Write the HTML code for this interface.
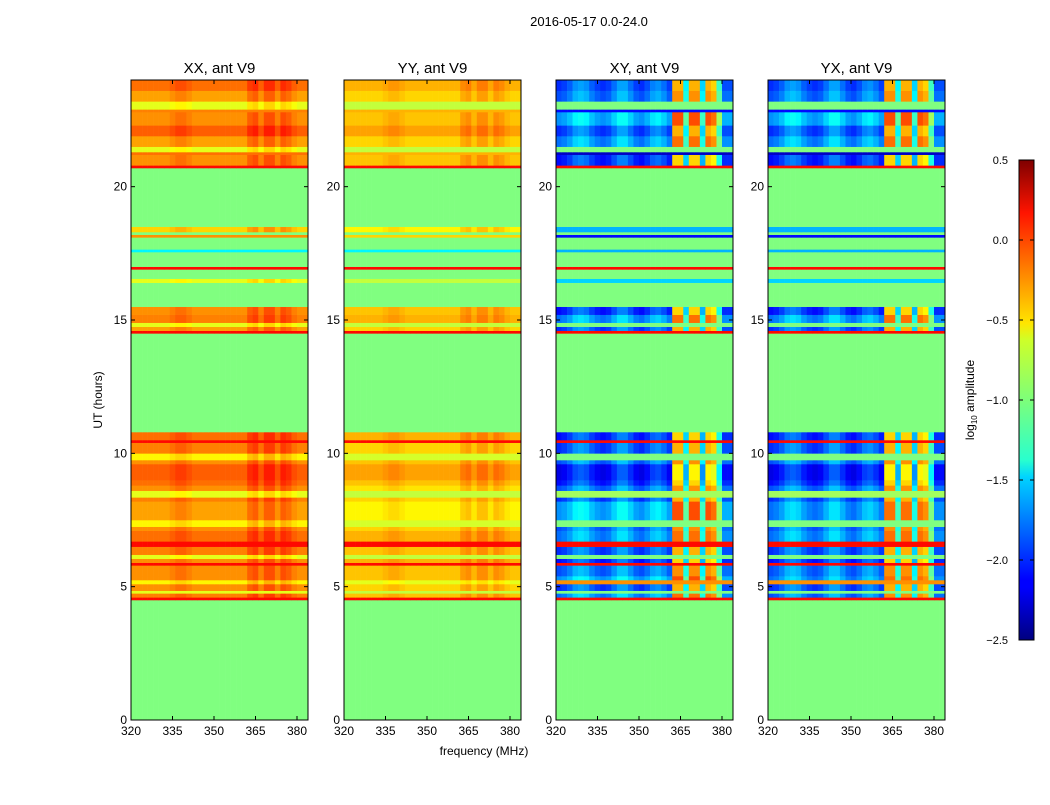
<!DOCTYPE html>
<html><head><meta charset="utf-8"><style>
body{margin:0;background:#fff;font-family:"Liberation Sans",sans-serif;}
svg text{font-family:"Liberation Sans",sans-serif;}
</style></head><body>
<svg id="fig" width="1050" height="800" xmlns="http://www.w3.org/2000/svg">
<rect width="1050" height="800" fill="#fff"/>
<text x="589" y="26" font-size="13" text-anchor="middle">2016-05-17 0.0-24.0</text>
<text x="484" y="755" font-size="12" text-anchor="middle">frequency (MHz)</text>
<text x="102" y="400" font-size="12" text-anchor="middle" transform="rotate(-90 102 400)">UT (hours)</text>
<defs><linearGradient id="jet" x1="0" y1="1" x2="0" y2="0">
<stop offset="0" stop-color="#00007f"/><stop offset="0.11" stop-color="#0000ff"/><stop offset="0.125" stop-color="#0000ff"/>
<stop offset="0.34" stop-color="#00d4ff"/><stop offset="0.375" stop-color="#29ffce"/><stop offset="0.5" stop-color="#7dff7a"/>
<stop offset="0.625" stop-color="#ceff29"/><stop offset="0.66" stop-color="#ffe500"/><stop offset="0.89" stop-color="#ff1400"/><stop offset="1" stop-color="#7f0000"/>
</linearGradient></defs>
<g id="cbar">
<rect x="1019" y="160" width="15" height="480" fill="url(#jet)" stroke="#000" stroke-width="1"/>
</g>
<text x="974" y="400" font-size="12" text-anchor="middle" transform="rotate(-90 974 400)">log<tspan font-size="8" dy="3">10</tspan><tspan dy="-3"> amplitude</tspan></text>
<g id="panels"></g>
</svg>
<script>
const panelTitles=["XX, ant V9","YY, ant V9","XY, ant V9","YX, ant V9"];
const bandStart=[0,4.5,4.6,4.75,4.85,5.1,5.25,5.4,5.8,5.9,6.05,6.2,6.5,6.7,7.1,7.25,7.5,8.2,8.35,8.6,8.8,9.0,9.6,9.75,10.0,10.4,10.5,10.8,14.5,14.6,14.75,14.9,15.2,15.5,16.4,16.55,16.9,17.0,17.55,17.65,18.1,18.2,18.3,18.5,18.6,20.7,20.8,21.2,21.3,21.5,21.9,22.3,22.8,22.9,23.2,23.6];
const bandEnd=  [4.5,4.6,4.75,4.85,5.1,5.25,5.4,5.8,5.9,6.05,6.2,6.5,6.7,7.1,7.25,7.5,8.2,8.35,8.6,8.8,9.0,9.6,9.75,10.0,10.4,10.5,10.8,14.5,14.6,14.75,14.9,15.2,15.5,16.4,16.55,16.9,17.0,17.55,17.65,18.1,18.2,18.3,18.5,18.6,20.7,20.8,21.2,21.3,21.5,21.9,22.3,22.8,22.9,23.2,23.6,24];
const xxVals=[-1,0.1,-0.25,-0.7,-0.3,-0.6,-0.3,-0.3,0.1,-0.3,-0.7,-0.25,0.1,-0.2,-0.3,-0.6,-0.35,-0.25,-0.7,-0.3,-0.2,-0.15,-0.3,-0.6,-0.25,0.1,-0.2,-1,0.1,-0.35,-0.7,-0.25,-0.3,-1,-0.7,-1,0.1,-1,-1.4,-1,-0.3,-1,-0.5,-1,-1,0.1,-0.3,-0.2,-0.7,-0.35,-0.15,-0.3,-0.25,-0.7,-0.35,-0.2];
const yyVals=[-1,0.1,-0.45,-0.8,-0.5,-0.7,-0.45,-0.45,0.1,-0.4,-0.8,-0.45,0.1,-0.4,-0.5,-0.75,-0.6,-0.5,-0.8,-0.55,-0.45,-0.35,-0.45,-0.75,-0.5,0.1,-0.4,-1,0.1,-0.5,-0.8,-0.4,-0.45,-1,-0.8,-1,0.1,-1,-1.4,-1,-0.5,-1,-0.6,-1,-1,0.1,-0.45,-0.4,-0.8,-0.5,-0.35,-0.45,-0.4,-0.8,-0.5,-0.4];
const xyVals=[-1,0.1,-1.8,-1.0,-2.0,-0.3,-1.7,-1.9,0.1,-2.1,-1.0,-2.0,0.1,-1.8,-1.9,-1.0,-1.7,-2.0,-0.9,-1.9,-2.1,-2.2,-1.9,-1.0,-2.0,0.1,-2.1,-1,0.1,-2.0,-1.0,-1.8,-2.1,-1,-1.5,-1,0.1,-1,-1.6,-1,-2.1,-1,-1.6,-1,-1,0.1,-2.1,-2.3,-1.0,-1.8,-2.0,-1.7,-2.1,-1.0,-1.9,-2.0];
const yxVals=[-1,0.1,-1.9,-1.0,-2.0,-0.3,-1.8,-1.9,0.1,-2.1,-1.0,-2.0,0.1,-1.8,-1.9,-1.0,-1.8,-2.0,-0.9,-1.9,-2.1,-2.2,-1.9,-1.0,-2.0,0.1,-2.1,-1,0.1,-2.0,-1.0,-1.8,-2.1,-1,-1.5,-1,0.1,-1,-1.6,-1,-2.1,-1,-1.6,-1,-1,0.1,-2.1,-2.3,-1.0,-1.8,-2.0,-1.7,-2.1,-1.0,-1.9,-2.0];
const colFreq=[320,322,324,326,328,330,332,334,336,338,340,342,344,346,348,350,352,354,356,358,360,362,364,366,368,370,372,374,376,378,380,382];
const xxCol=[0,0,0,0,0,0,0,0.05,0.1,0.1,0.05,0,0,0,0,0,0,0,0,0,0,0.15,0.2,0.05,0.2,0.2,0.05,0.2,0.15,0.05,0,0];
const crossCol=[0,0.05,0.15,0.3,0.35,0.3,0.15,0.05,0,0.05,0.2,0.35,0.35,0.2,0.05,0,0.1,0.25,0.3,0.2,0.05,1.6,1.6,0.6,1.6,1.6,0.5,1.6,1.5,0.8,0.1,0.1];
const xTicks=[320,335,350,365,380];
const yTicks=[0,5,10,15,20];
const cbTicks=[0.5,0.0,-0.5,-1.0,-1.5,-2.0,-2.5];

function jet(v){let t=(v+2.5)/3;t=Math.max(0,Math.min(1,t));
 const r=Math.max(0,Math.min(1,1.5-Math.abs(4*t-3))),g=Math.max(0,Math.min(1,1.5-Math.abs(4*t-2))),b=Math.max(0,Math.min(1,1.5-Math.abs(4*t-1)));
 return `rgb(${Math.round(r*255)},${Math.round(g*255)},${Math.round(b*255)})`;}
const NS="http://www.w3.org/2000/svg";
const panelX=[131,344,556,768],PW=177,PT=80,PB=720;
function xs(px,f){return px+(f-320)*166/60;}
function ys(h){return PB-h*(PB-PT)/24;}
const root=document.getElementById('panels');
function mk(tag,attrs,parent){const e=document.createElementNS(NS,tag);for(const k in attrs)e.setAttribute(k,attrs[k]);parent.appendChild(e);return e;}
const series=[xxVals,yyVals,xyVals,yxVals];
panelX.forEach((px,pi)=>{
 const g=mk('g',{},root);
 
 
 const vals=series[pi];
 for(let b=0;b<bandStart.length;b++){
  const base=vals[b];
  const isData=(pi<2 ? base>-0.75 : base<-1.6) && base<0.05 && (bandEnd[b]-bandStart[b])>0.12;
  for(let c=0;c<colFreq.length;c++){
   let v=base;
   if(isData){v+= pi<2 ? xxCol[c]*(pi==0?1:0.8) : crossCol[c];}
   const x0=xs(px,colFreq[c]),x1=Math.min(px+PW,xs(px,colFreq[c]+2));
   if(x1<=x0)continue;
   const r=mk('rect',{x:x0.toFixed(2),y:ys(bandEnd[b]).toFixed(2),width:(x1-x0+0.3).toFixed(2),height:(ys(bandStart[b])-ys(bandEnd[b])+0.3).toFixed(2),fill:jet(v)},g);
   
   
  }
 }
 mk('rect',{x:px,y:PT,width:PW,height:PB-PT,fill:'none',stroke:'#000','stroke-width':1},g);
 const t=mk('text',{x:px+PW/2,y:73,'font-size':15,'text-anchor':'middle'},g);t.textContent=panelTitles[pi];
 
 
 xTicks.forEach(f=>{const x=xs(px,f);mk('line',{x1:x,x2:x,y1:PB,y2:PB-4,stroke:'#000'},g);mk('line',{x1:x,x2:x,y1:PT,y2:PT+4,stroke:'#000'},g);
  const l=mk('text',{x:x,y:PB+15,'font-size':12,'text-anchor':'middle'},g);l.textContent=f;
  
  });
 yTicks.forEach(h=>{const y=ys(h);mk('line',{x1:px,x2:px+4,y1:y,y2:y,stroke:'#000'},g);mk('line',{x1:px+PW,x2:px+PW-4,y1:y,y2:y,stroke:'#000'},g);
  const l=mk('text',{x:px-4,y:y+4,'font-size':12,'text-anchor':'end'},g);l.textContent=h;
  
  });
});
const cb=document.getElementById('cbar');
cbTicks.forEach(v=>{const y=160+(0.5-v)/3*480;mk('line',{x1:1034,x2:1030,y1:y,y2:y,stroke:'#000'},cb);mk('line',{x1:1019,x2:1023,y1:y,y2:y,stroke:'#000'},cb);
 const l=mk('text',{x:1008,y:y+4,'font-size':11,'text-anchor':'end'},cb);l.textContent=(v<0?'\u2212':'')+Math.abs(v).toFixed(1);
 
 });
</script>
</body></html>
